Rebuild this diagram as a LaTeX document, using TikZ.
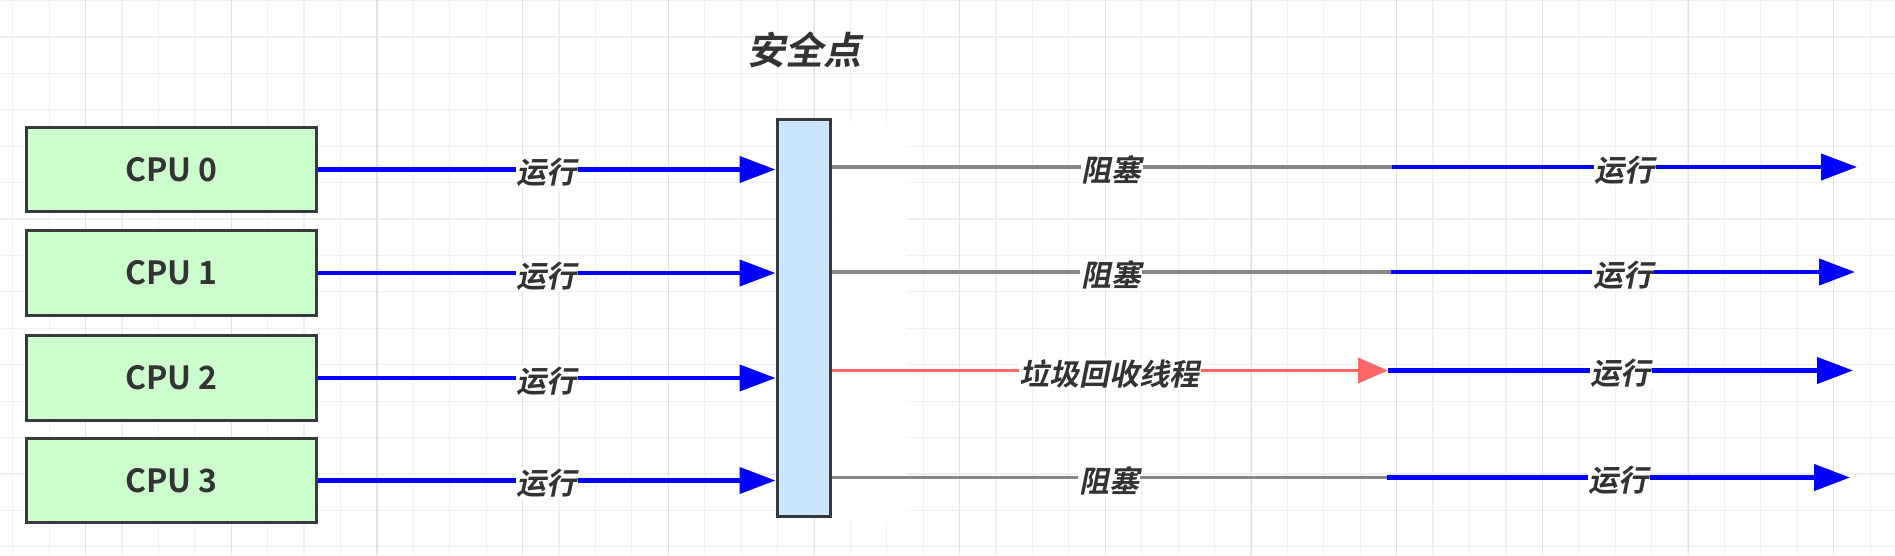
\documentclass[tikz,border=0pt]{standalone}
\usepackage{fontspec}
\usetikzlibrary{arrows.meta}
\newfontfamily\cjkb{Noto Sans CJK SC Bold}
\newfontfamily\cjkbi[FakeSlant=0.2]{Noto Sans CJK SC Bold}
\definecolor{txt}{HTML}{333333}
\definecolor{bord}{HTML}{36393D}
\definecolor{cpufill}{HTML}{CCFFCC}
\definecolor{barfill}{HTML}{CCE5FF}
\definecolor{runblue}{HTML}{0000FF}
\definecolor{blockgray}{HTML}{888888}
\definecolor{gcred}{HTML}{FF6666}
\definecolor{gridmin}{HTML}{F0F0F0}
\definecolor{gridmaj}{HTML}{E2E2E2}
\tikzset{
  cpubox/.style={draw=bord, line width=3pt, fill=cpufill, minimum width=290pt, minimum height=84.5pt,
    inner sep=0pt, text=txt, font=\cjkb\fontsize{32}{32}\selectfont},
  barbox/.style={draw=bord, line width=3pt, fill=barfill, minimum width=53pt, minimum height=397pt, inner sep=0pt},
  lab/.style={fill=white, inner sep=1pt, text=txt, font=\cjkbi\fontsize{30}{30}\selectfont, yshift=-3pt},
  runline/.style={draw=runblue, line width=4.2pt, -{Triangle[length=36pt,width=26pt]}},
  blockline/.style={draw=blockgray, line width=3.8pt},
  gcline/.style={draw=gcred, line width=3.8pt, -{Triangle[length=30pt,width=25pt]}},
}
\begin{document}
\begin{tikzpicture}[x=1pt,y=-1pt]
\useasboundingbox (0,0) rectangle (1895,555);
\fill[white] (0,0) rectangle (1895,555);
% grid
\foreach \k in {0,...,51} {
  \pgfmathsetmacro\xx{12.7+36.42*\k}
  \draw[gridmin, line width=1.2pt] (\xx,0) -- (\xx,555);
}
\foreach \k in {0,...,15} {
  \pgfmathsetmacro\yy{0.5+36.42*\k}
  \draw[gridmin, line width=1.2pt] (0,\yy) -- (1895,\yy);
}
\foreach \k in {0,...,12} {
  \pgfmathsetmacro\xx{85.7+145.68*\k}
  \draw[gridmaj, line width=1.2pt] (\xx,0) -- (\xx,555);
}
\fill[white] (833,123) rectangle (907,521);
% title
\node[text=txt, font=\cjkbi\fontsize{38}{38}\selectfont] (title) at (804,50) {安全点};
% safe-point bar
\node[barbox] (bar) at (803.5,317.7) {};
% CPU boxes
\node[cpubox] (cpu0) at (171.5,169.5) {CPU 0};
\node[cpubox] (cpu1) at (171.5,273) {CPU 1};
\node[cpubox] (cpu2) at (171.5,378) {CPU 2};
\node[cpubox] (cpu3) at (171.5,480.5) {CPU 3};
% left arrows
\draw[runline] (cpu0.east) -- (cpu0.east -| bar.west) node[midway, lab] {运行};
\draw[runline] (cpu1.east) -- (cpu1.east -| bar.west) node[midway, lab] {运行};
\draw[runline] (cpu2.east) -- (cpu2.east -| bar.west) node[midway, lab] {运行};
\draw[runline] (cpu3.east) -- (cpu3.east -| bar.west) node[midway, lab] {运行};
% junctions and ends
\coordinate (j0) at (1392,167);
\coordinate (j1) at (1391,272);
\coordinate (j2) at (1388,370.5);
\coordinate (j3) at (1387,477.5);
\coordinate (e0) at (1857,167);
\coordinate (e1) at (1855,272);
\coordinate (e2) at (1853,370.5);
\coordinate (e3) at (1850,477.5);
% right side
\draw[blockline] (bar.east |- j0) -- (j0) node[midway, lab] {阻塞};
\draw[blockline] (bar.east |- j1) -- (j1) node[midway, lab] {阻塞};
\draw[gcline] (bar.east |- j2) -- (j2) node[midway, lab] {垃圾回收线程};
\draw[blockline] (bar.east |- j3) -- (j3) node[midway, lab] {阻塞};
\draw[runline] (j0) -- (e0) node[midway, lab] {运行};
\draw[runline] (j1) -- (e1) node[midway, lab] {运行};
\draw[runline] (j2) -- (e2) node[midway, lab] {运行};
\draw[runline] (j3) -- (e3) node[midway, lab] {运行};
\end{tikzpicture}
\end{document}
